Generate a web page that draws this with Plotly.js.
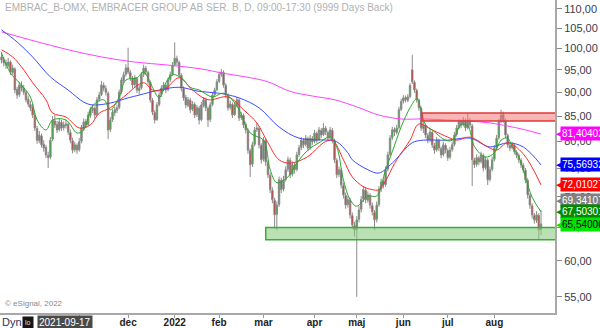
<!DOCTYPE html>
<html><head><meta charset="utf-8">
<script src="https://cdn.plot.ly/plotly-3.0.1.min.js"></script>
<style>html,body{margin:0;padding:0;background:#fff}#chart{width:600px;height:328px}</style>
</head><body><div id="chart"></div>
<script>
// Daily OHLC, EMBRAC B (trading-day index 0 = first bar)
const openP = [
98.0,97.3,96.6,96.0,96.8,94.4,95.2,90.6,89.5,91.5,
90.9,90.0,88.5,87.4,86.8,85.1,82.5,80.1,81.0,79.4,
78.8,77.3,77.0,80.4,84.0,83.3,82.3,83.7,82.7,83.1,
83.3,81.7,80.1,78.4,79.2,78.4,80.0,82.5,83.9,83.3,
85.1,86.2,86.6,85.3,88.5,89.5,91.5,90.8,89.8,82.3,
84.3,85.7,86.2,86.8,90.1,92.6,94.0,95.5,94.4,93.1,
91.7,93.0,90.4,91.0,94.0,95.3,94.4,92.2,88.3,85.7,
84.3,87.4,89.5,90.8,91.5,90.6,92.8,94.0,96.2,97.6,
96.7,93.8,90.8,88.9,87.2,88.3,86.4,87.4,85.3,86.6,
84.3,87.2,88.3,86.6,84.3,87.4,89.5,90.6,92.4,94.0,
94.4,91.5,89.3,86.8,87.4,85.3,87.2,88.3,84.7,85.1,
83.3,82.1,78.2,75.7,79.4,82.3,82.5,79.2,76.6,80.1,
76.0,73.7,71.1,69.4,67.1,68.7,72.8,71.3,73.0,74.8,
76.4,73.9,75.5,74.8,77.5,78.8,80.1,79.4,80.5,78.8,
80.5,80.0,81.5,80.3,82.1,81.3,82.5,81.7,80.7,82.1,
80.1,76.4,73.9,74.6,71.9,70.2,68.7,69.4,66.9,65.3,
64.7,66.3,67.9,69.6,71.1,69.4,70.2,68.5,67.4,66.3,
68.7,71.3,72.6,72.1,74.8,77.5,80.7,82.3,81.7,82.7,
86.4,88.1,88.9,88.3,89.1,95.0,92.2,90.4,88.3,86.6,
82.5,83.1,81.1,80.3,81.7,79.2,78.4,80.1,78.6,77.5,
79.2,78.2,77.0,78.4,79.4,81.3,82.7,83.9,83.3,84.1,
82.7,84.1,83.0,76.4,75.7,76.8,76.2,77.3,75.1,76.4,
73.0,74.8,76.6,78.8,80.7,83.9,85.3,84.1,81.1,79.2,
78.8,79.2,77.9,77.3,76.4,75.5,74.6,72.8,70.2,68.5,
66.9,66.1,66.9,64.7];
const highP = [
99.2,98.0,97.4,97.8,97.2,96.2,95.6,91.2,92.3,92.4,
91.6,90.4,89.3,88.2,87.5,85.6,83.0,82.0,81.5,80.2,
79.3,78.0,80.8,85.0,85.2,84.0,84.5,84.2,83.9,84.3,
83.8,82.3,80.7,79.9,79.6,80.6,83.2,84.5,84.4,85.9,
86.9,87.4,87.0,89.0,90.1,92.5,92.2,91.5,90.2,84.8,
86.4,86.9,87.4,90.6,93.3,94.6,96.3,100.2,95.0,93.6,
93.8,93.4,91.6,94.5,96.2,95.9,94.8,92.6,88.8,86.2,
87.9,90.0,91.5,92.3,92.0,93.3,94.6,96.8,101.5,98.3,
97.1,94.2,91.3,89.5,89.0,88.8,88.1,87.9,87.3,87.1,
87.9,89.0,88.9,87.0,87.9,90.0,91.0,92.9,94.6,95.2,
94.9,92.0,89.8,88.2,87.8,87.9,89.0,88.7,85.8,85.5,
83.8,82.5,78.6,79.9,82.8,83.6,82.9,79.6,80.8,80.5,
76.4,74.2,71.6,69.8,69.2,73.5,73.3,73.6,75.3,77.1,
76.9,76.2,76.0,78.0,79.3,80.8,80.6,81.2,80.9,81.2,
81.0,82.2,81.9,82.8,82.6,83.6,83.0,82.1,82.8,82.6,
80.5,76.8,75.3,75.0,72.4,70.7,70.1,69.8,67.4,65.9,
66.8,68.4,70.1,71.8,71.6,70.9,70.6,69.0,67.8,69.2,
71.8,73.1,73.0,75.3,78.0,81.2,82.8,82.7,83.2,86.9,
88.6,89.4,89.3,89.6,92.0,98.5,92.6,90.8,88.7,87.0,
83.8,83.5,81.6,82.4,82.1,79.7,80.8,80.5,79.0,79.9,
79.6,78.6,78.9,79.9,81.8,83.2,84.4,84.3,84.8,84.5,
85.5,84.6,83.4,76.9,77.5,77.2,78.0,77.7,77.1,76.8,
75.3,77.1,79.3,81.2,84.4,86.3,85.9,84.5,81.5,79.6,
79.9,79.6,78.3,77.7,76.8,75.9,75.0,73.2,70.6,68.9,
67.3,67.6,67.3,67.8];
const lowP = [
96.5,95.8,95.2,95.5,93.8,93.9,89.8,88.6,89.0,90.2,
89.4,87.8,86.9,86.0,84.6,82.0,79.5,79.6,78.8,78.0,
76.8,75.0,76.6,80.0,82.6,81.6,81.9,82.0,82.1,82.5,
81.2,79.6,77.7,77.9,77.6,78.0,79.6,82.0,82.6,83.0,
84.6,85.6,84.5,85.0,88.0,89.2,90.2,89.3,80.4,81.8,
83.8,85.0,85.6,86.4,89.6,92.0,93.5,94.0,92.5,90.8,
91.2,89.8,89.5,90.6,93.4,93.8,91.6,87.8,85.2,83.5,
84.0,87.0,89.0,90.2,89.8,90.2,92.3,93.6,95.8,96.0,
93.2,90.2,88.2,86.6,86.8,85.6,86.0,84.6,84.8,83.3,
83.9,86.8,86.0,82.8,83.8,87.0,89.0,90.2,92.0,93.4,
91.0,88.8,86.1,86.3,84.6,85.0,86.8,84.0,84.2,82.6,
81.5,77.6,73.4,75.2,79.0,81.8,78.6,75.8,76.2,75.4,
73.2,70.6,68.9,64.8,64.6,68.3,70.6,70.9,72.6,74.3,
73.2,73.5,74.0,74.4,77.0,78.3,78.7,79.0,78.1,78.4,
79.3,79.6,79.6,80.0,80.6,81.0,81.2,80.0,80.3,79.6,
75.9,73.2,73.4,71.4,69.7,68.0,68.2,66.4,64.8,63.6,
55.0,65.8,67.4,69.1,68.9,69.0,68.0,66.9,64.6,65.8,
68.3,70.8,71.4,71.7,74.4,77.1,80.2,81.0,81.3,82.3,
86.0,87.6,87.8,87.9,88.7,91.8,89.9,87.8,86.1,82.0,
81.6,80.6,79.6,79.8,78.7,77.6,78.0,78.1,76.8,77.1,
77.7,76.3,76.6,78.0,79.0,80.9,82.3,82.6,82.9,82.0,
82.3,82.6,71.8,75.0,75.2,75.5,75.8,74.4,74.7,72.0,
72.6,74.4,76.2,78.4,80.3,83.5,83.6,80.6,78.7,78.1,
78.4,77.5,76.8,75.9,75.0,74.1,72.3,69.7,68.0,66.4,
65.6,65.7,63.1,63.8];
const closeP = [
97.3,96.6,96.1,96.8,94.5,95.4,90.5,89.4,91.6,90.9,
90.0,88.4,87.5,86.7,85.2,82.6,80.2,81.2,79.3,78.7,
77.4,76.9,80.2,84.2,83.2,82.2,83.8,82.6,83.2,83.4,
81.8,80.2,78.3,79.3,78.3,79.9,82.6,83.8,83.2,85.2,
86.3,86.7,85.2,88.4,89.4,91.6,90.9,90.0,82.2,84.2,
85.8,86.3,86.7,90.0,92.7,93.9,95.4,94.5,93.2,91.6,
93.2,90.5,90.9,93.9,95.4,94.5,92.3,88.4,85.8,84.2,
87.3,89.4,90.9,91.6,90.5,92.7,93.9,96.1,97.7,96.8,
93.9,90.9,88.8,87.3,88.4,86.3,87.5,85.2,86.7,84.2,
87.3,88.4,86.7,84.2,87.3,89.4,90.5,92.3,93.9,94.5,
91.6,89.4,86.7,87.5,85.2,87.3,88.4,84.6,85.2,83.2,
82.2,78.3,75.6,79.3,82.2,82.6,79.3,76.5,80.2,76.1,
73.8,71.2,69.5,67.0,68.6,72.9,71.2,72.9,74.7,76.5,
73.8,75.6,74.7,77.4,78.7,80.2,79.3,80.6,78.7,80.6,
79.9,81.6,80.2,82.2,81.2,82.6,81.8,80.6,82.2,80.2,
76.5,73.8,74.7,72.0,70.3,68.6,69.5,67.0,65.4,64.6,
66.2,67.8,69.5,71.2,69.5,70.3,68.6,67.5,66.2,68.6,
71.2,72.5,72.0,74.7,77.4,80.6,82.2,81.8,82.6,86.3,
88.0,88.8,88.4,89.0,91.5,92.3,90.5,88.4,86.7,82.6,
83.2,81.2,80.2,81.8,79.3,78.3,80.2,78.7,77.4,79.3,
78.3,76.9,78.3,79.3,81.2,82.6,83.8,83.2,84.2,82.6,
84.2,83.2,76.5,75.6,76.9,76.1,77.4,75.0,76.5,72.9,
74.7,76.5,78.7,80.6,83.8,85.2,84.2,81.2,79.3,78.7,
79.3,78.0,77.4,76.5,75.6,74.7,72.9,70.3,68.6,67.0,
66.2,67.0,64.6,65.54];

// Moving averages, sampled at trading-day indices
const maGreenX = [0,4,8,13,16,20,23,29,34,37,41,46,49,53,56,61,64,68,71,74,77,81,85,89,95,100,106,112,118,121,124,129,133,138,143,148,151,154,157,160,165,169,173,176,180,184,187,189,191,194,200,203,207,210,213,218,222,225,228,230,233,236,239,243];
const maGreenY = [98.9,94.3,92.1,89.0,84.2,82.2,84.2,84.2,81.6,82.2,87.1,88.4,86.3,89.0,92.7,93.2,94.5,91.1,88.8,92.1,93.9,93.2,91.1,90.5,89.0,89.8,87.1,81.6,80.2,74.7,72.4,73.4,75.9,78.3,79.7,80.8,78.9,72.9,69.5,68.4,70.1,70.1,74.7,78.0,82.8,86.7,88.6,86.3,83.2,82.2,80.2,80.2,83.2,83.0,79.0,77.0,77.8,80.2,80.6,79.0,77.0,73.4,69.9,67.50];
const maRedX = [0,5,10,14,20,23,29,35,40,44,49,55,64,68,73,80,86,93,102,109,115,120,125,130,138,145,149,154,158,163,167,170,178,184,188,194,201,205,211,219,223,228,235,243];
const maRedY = [99.7,98.0,95.0,92.1,88.4,85.6,84.8,82.6,83.2,85.6,86.7,89.0,92.1,90.5,90.5,93.2,90.5,88.4,89.0,86.3,83.6,79.7,76.5,75.9,77.1,79.7,80.2,76.5,73.4,71.7,71.2,71.2,76.5,80.2,83.4,82.2,80.8,80.2,80.8,78.9,78.3,79.7,77.6,72.01];
const maBlueX = [0,7,14,22,30,37,41,49,57,62,71,80,89,98,107,116,125,134,147,151,156,158,165,170,176,185,190,201,211,220,228,235,243];
const maBlueY = [104.6,101.6,98.0,93.4,90.5,87.9,87.3,87.7,88.8,89.4,90.5,91.1,90.2,89.8,88.8,86.7,82.8,80.6,80.2,79.9,77.8,76.5,74.7,74.1,75.9,79.7,80.2,80.2,80.6,78.9,79.7,78.9,75.57];
const maMagX = [0,15,30,45,60,75,90,100,110,120,130,140,150,160,170,180,190,200,210,220,230,236,243];
const maMagY = [104.1,101.8,99.7,98.0,96.8,96.1,95.2,94.2,93.4,92.3,90.2,89.2,88.4,86.9,85.2,84.4,84.4,84.2,84.0,83.6,82.8,82.2,81.40];

// Zones
const supportZone = {from: 119, low: 63.1, high: 65.0};
const resistZone = {from: 189.4, low: 84.0, high: 85.6};

// Right-hand value tags
const tagValues = [81.404024, 75.569325, 72.01027, 69.341075, 67.503017, 65.540001];
const tagTexts = ['81,404024','75,569325','72,01027','69,341075','67,503017','65,540001'];
const tagColors = ['#ff00ff','#0000ff','#ff0000','#808080','#008c00','#00e600'];
const tagFontColors = ['#fff','#fff','#fff','#fff','#fff','#000'];

// Axis ticks
const monthTickIdx = [35,57,78,98,118,141,160,181,201,222];
const monthTickText = ['','dec','2022','feb','mar','apr','maj','jun','jul','aug'];
const priceTicks = [55,60,65,70,75,80,85,90,95,100,105,110];
const priceTickText = ['55,00','60,00','65,00','70,00','75,00','80,00','85,00','90,00','95,00','100,00','105,00','110,00'];

const dayIdx = closeP.map((_, i) => i);
const ff = '"Liberation Sans", Arial, sans-serif';

function maTrace(x, y, color) {
  return {type:'scatter', mode:'lines', x:x, y:y, hoverinfo:'skip',
    line:{color:color, width:1, shape:'spline', smoothing:1}};
}

const traces = [
  {type:'candlestick', x:dayIdx, open:openP, high:highP, low:lowP, close:closeP,
   increasing:{line:{color:'#8a8a8a', width:1}, fillcolor:'#1fb41f'},
   decreasing:{line:{color:'#8a8a8a', width:1}, fillcolor:'#d41c1c'},
   whiskerwidth:0, hoverinfo:'skip'},
  maTrace(maMagX, maMagY, '#ff40ff'),
  maTrace(maBlueX, maBlueY, '#3a4cff'),
  maTrace(maRedX, maRedY, '#ff2a2a'),
  maTrace(maGreenX, maGreenY, '#2aa82a')
];

const shapes = [
  {type:'rect', xref:'x', yref:'y', x0:supportZone.from, x1:400, y0:supportZone.low, y1:supportZone.high,
   fillcolor:'rgba(140,205,130,0.6)', line:{color:'#3cab36', width:1.5}, layer:'above'},
  {type:'rect', xref:'x', yref:'y', x0:resistZone.from, x1:400, y0:resistZone.low, y1:resistZone.high,
   fillcolor:'rgba(245,120,120,0.55)', line:{color:'#e03a3a', width:1.5}, layer:'above'}
];

const annotations = [
  {xref:'paper', yref:'paper', x:0.005, y:0.975, xanchor:'left', yanchor:'middle', showarrow:false,
   text:'EMBRAC_B-OMX, EMBRACER GROUP AB SER. B, D, 09:00-17:30 (9999 Days Back)',
   font:{family:ff, size:10, color:'#b0b0b0'}},
  {xref:'paper', yref:'paper', x:0.005, y:0.03, xanchor:'left', yanchor:'middle', showarrow:false,
   text:'© eSignal, 2022', font:{family:ff, size:8, color:'#888'}},
  {xref:'paper', yref:'paper', x:0, y:-0.03, xanchor:'left', yanchor:'middle', showarrow:false,
   text:'Dyn', font:{family:ff, size:11, color:'#2c3550'}},
  {xref:'paper', yref:'paper', x:0.0405, y:-0.03, xanchor:'left', yanchor:'middle', showarrow:false,
   text:'lo', bgcolor:'#151515', borderpad:2, font:{family:ff, size:7, color:'#ddd'}},
  {xref:'paper', yref:'paper', x:0.066, y:-0.03, xanchor:'left', yanchor:'middle', showarrow:false,
   text:'2021-09-17', bgcolor:'#4a4a4a', borderpad:1, font:{family:ff, size:10, color:'#fff'}}
];
tagValues.forEach((v, k) => {
  annotations.push({xref:'paper', yref:'y', x:1, y:Math.log10(v), xanchor:'left', yanchor:'middle',
    xshift:-1, showarrow:false, text:'◀', font:{family:'DejaVu Sans', size:11, color:tagColors[k]}});
  annotations.push({xref:'paper', yref:'y', x:1, y:Math.log10(v), xanchor:'left', yanchor:'middle',
    xshift:5, showarrow:false, text:tagTexts[k], bgcolor:tagColors[k], borderpad:1,
    font:{family:ff, size:10, color:tagFontColors[k]}});
});

const layout = {
  width:600, height:328,
  margin:{l:0, r:45, t:0, b:15, pad:0},
  paper_bgcolor:'#fff', plot_bgcolor:'#fff',
  showlegend:false, boxgap:0.1,
  xaxis:{type:'linear', range:[-0.7, 249.3], rangeslider:{visible:false},
    tickmode:'array', tickvals:monthTickIdx, ticktext:monthTickText,
    ticks:'outside', ticklen:3, tickcolor:'#999', tickwidth:1, ticklabelstandoff:-4,
    tickfont:{family:ff, size:10, color:'#222', weight:'bold'},
    showgrid:false, zeroline:false, showline:true, linecolor:'#a8a8a8', linewidth:2,
    automargin:false, fixedrange:true},
  yaxis:{type:'log', side:'right', range:[Math.log10(52.9), Math.log10(112.4)],
    tickmode:'array', tickvals:priceTicks, ticktext:priceTickText,
    ticks:'outside', ticklen:5, tickcolor:'#888', tickwidth:1,
    tickfont:{family:ff, size:11, color:'#3a3a4a'},
    showgrid:false, zeroline:false, showline:true, linecolor:'#a8a8a8', linewidth:2,
    automargin:false, fixedrange:true},
  shapes:shapes, annotations:annotations
};

Plotly.newPlot('chart', traces, layout, {staticPlot:true, displayModeBar:false});
</script></body></html>
